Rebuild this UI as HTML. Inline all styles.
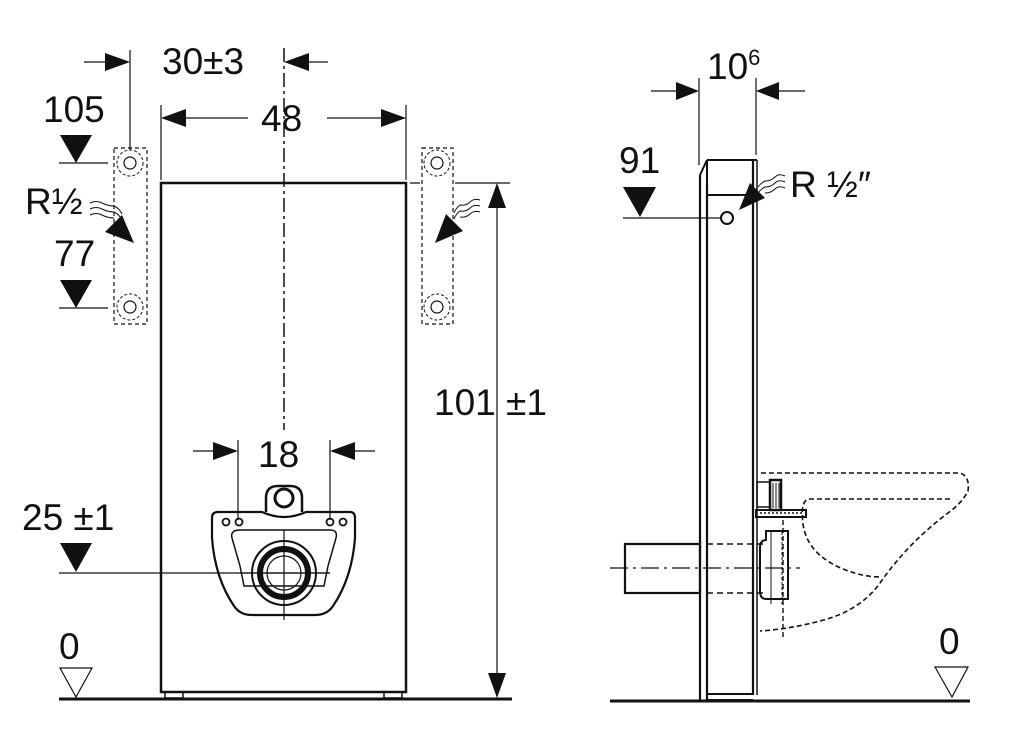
<!DOCTYPE html>
<html><head><meta charset="utf-8"><style>
html,body{margin:0;padding:0;background:#fff;}
svg{display:block}
text{font-family:"Liberation Sans",sans-serif;fill:#111;}
</style></head><body>
<svg width="1024" height="731" viewBox="0 0 1024 731" xmlns="http://www.w3.org/2000/svg">
<g stroke="#111" fill="none">
<rect x="161" y="183" width="245" height="509" stroke-width="2.5"/>
<path d="M165 692 v6 h18 v-6 M384 692 v6 h18 v-6" stroke-width="1.5"/>
<line x1="59" y1="699" x2="512" y2="699" stroke-width="3"/>
<line x1="284" y1="48" x2="284" y2="430" stroke-width="1.5" stroke-dasharray="14,4,3,4"/>
<line x1="130" y1="50" x2="130" y2="150" stroke-width="1.2"/>
<line x1="84" y1="62" x2="128" y2="62" stroke-width="1.2"/>
<polygon points="130,62 105,53 105,71" fill="#111" stroke="none"/>
<line x1="286" y1="62" x2="328" y2="62" stroke-width="1.2"/>
<polygon points="284,62 309,53 309,71" fill="#111" stroke="none"/>
<line x1="161" y1="105" x2="161" y2="180" stroke-width="1.2"/>
<line x1="406" y1="105" x2="406" y2="180" stroke-width="1.2"/>
<line x1="163" y1="118" x2="248" y2="118" stroke-width="1.2"/>
<line x1="327" y1="118" x2="404" y2="118" stroke-width="1.2"/>
<polygon points="161,118 186,109 186,127" fill="#111" stroke="none"/>
<polygon points="406,118 381,109 381,127" fill="#111" stroke="none"/>
<rect x="114" y="148" width="33" height="176" stroke-width="1.2" stroke-dasharray="4,3"/>
<rect x="422" y="148" width="31" height="176" stroke-width="1.2" stroke-dasharray="4,3"/>
<circle cx="130" cy="163" r="13" stroke-width="1" stroke-dasharray="3,2"/><circle cx="130" cy="163" r="6" stroke-width="1.2"/>
<circle cx="130" cy="307" r="13" stroke-width="1" stroke-dasharray="3,2"/><circle cx="130" cy="307" r="6" stroke-width="1.2"/>
<circle cx="437" cy="163" r="13" stroke-width="1" stroke-dasharray="3,2"/><circle cx="437" cy="163" r="6" stroke-width="1.2"/>
<circle cx="437" cy="307" r="13" stroke-width="1" stroke-dasharray="3,2"/><circle cx="437" cy="307" r="6" stroke-width="1.2"/>
<line x1="59" y1="163" x2="108" y2="163" stroke-width="1.2"/>
<line x1="59" y1="308" x2="108" y2="308" stroke-width="1.2"/>
<line x1="59" y1="573" x2="330" y2="573" stroke-width="1.2"/>
<path d="M90 203 q6 -3 12 0 t12 3 q5 2 8 8 M90 209 q6 -3 12 0 t12 3 q5 2 8 8 M90 215 q6 -3 12 0 t12 3" stroke-width="1"/>
<polygon points="134,243 105,232 122,215" fill="#111" stroke="none"/>
<path d="M480 200 q-6 -2 -10 2 t-10 3 q-4 3 -6 8 M480 206 q-6 -2 -10 2 t-10 3 q-4 3 -6 8 M480 212 q-6 -2 -10 2 t-10 3" stroke-width="1"/>
<polygon points="435,243 446,214 463,231" fill="#111" stroke="none"/>
<path d="M410 183 h10 M455 183 h55" stroke-width="1.2"/>
<line x1="497" y1="205" x2="497" y2="676" stroke-width="1.2"/>
<polygon points="497,183 488,208 506,208" fill="#111" stroke="none"/>
<polygon points="497,698 488,673 506,673" fill="#111" stroke="none"/>
<line x1="238" y1="440" x2="238" y2="520" stroke-width="1.2"/>
<line x1="330" y1="440" x2="330" y2="520" stroke-width="1.2"/>
<line x1="193" y1="451" x2="236" y2="451" stroke-width="1.2"/>
<polygon points="238,451 213,442 213,460" fill="#111" stroke="none"/>
<line x1="332" y1="451" x2="375" y2="451" stroke-width="1.2"/>
<polygon points="330,451 355,442 355,460" fill="#111" stroke="none"/>
<path d="M266 512 v-14 q0 -12 12 -12 h12 q12 0 12 12 v14" stroke-width="2.5" fill="#fff"/>
<circle cx="284" cy="498" r="9" stroke-width="3"/>
<path d="M220 512 H262 q22 10 44 0 H350 q5 0 5 6 v20 q-3 40 -22 68 q-6 9 -18 9 H252 q-12 0 -18 -9 q-19 -28 -22 -68 v-20 q0 -6 6 -6z" stroke-width="2.2"/>
<path d="M240 530 H330 q8 0 6 8 l-8 28 l-4 20 H244 l-4 -20 l-8 -28 q-2 -8 8 -8z" stroke-width="1.5"/>
<circle cx="284" cy="573" r="32" stroke-width="2"/>
<circle cx="284" cy="573" r="24" stroke-width="6"/>
<circle cx="284" cy="573" r="17" stroke-width="1.2"/>
<line x1="284" y1="530" x2="284" y2="620" stroke-width="1.2"/>
<line x1="240" y1="573" x2="330" y2="573" stroke-width="1.2"/>
<circle cx="226" cy="522" r="3.5" stroke-width="1.8"/><circle cx="239" cy="522" r="3.5" stroke-width="1.8"/>
<circle cx="330" cy="522" r="3.5" stroke-width="1.8"/><circle cx="343" cy="522" r="3.5" stroke-width="1.8"/>
<polygon points="60,135 92,135 76,163" fill="#111" stroke="none"/>
<polygon points="60,280 92,280 76,308" fill="#111" stroke="none"/>
<polygon points="60,543 92,543 76,572" fill="#111" stroke="none"/>
<polygon points="60,668 92,668 76,697" stroke-width="1.2"/>
<polygon points="623,187 656,187 640,217" fill="#111" stroke="none"/>
<polygon points="935,667 968,667 952,697" stroke-width="1.2"/>

<line x1="610" y1="701" x2="970" y2="701" stroke-width="3"/>
<line x1="700" y1="175" x2="700" y2="700" stroke-width="2.2"/>
<line x1="707" y1="185" x2="707" y2="700" stroke-width="2.2"/>
<line x1="753" y1="160" x2="753" y2="695" stroke-width="2.2"/>
<line x1="757" y1="160" x2="757" y2="695" stroke-width="1.5"/>
<path d="M707 160 H757 M707 160 v25 M700 175 l7 -15 M707 195 H753 M707 694 H753 M707 700 H753" stroke-width="2"/>
<line x1="699" y1="78" x2="699" y2="165" stroke-width="1.2"/>
<line x1="756" y1="78" x2="756" y2="155" stroke-width="1.2"/>
<line x1="651" y1="91" x2="697" y2="91" stroke-width="1.2"/>
<polygon points="699,91 676,82 676,100" fill="#111" stroke="none"/>
<line x1="758" y1="91" x2="805" y2="91" stroke-width="1.2"/>
<polygon points="756,91 779,82 779,100" fill="#111" stroke="none"/>
<line x1="623" y1="218" x2="720" y2="218" stroke-width="1.2"/>
<circle cx="727" cy="218" r="6" stroke-width="2"/>
<path d="M785 176 q-6 -3 -10 1 t-10 4 q-4 2 -7 6 M785 182 q-6 -3 -10 1 t-10 4 q-4 2 -7 6 M785 188 q-6 -3 -10 1 t-10 4" stroke-width="1"/>
<polygon points="739,210 750,183 765,198" fill="#111" stroke="none"/>
<rect x="625" y="544" width="75" height="49" stroke-width="2.2"/>
<path d="M707 544 H765 M707 593 H765" stroke-width="1.5" stroke-dasharray="6,4"/>
<line x1="610" y1="568" x2="800" y2="568" stroke-width="1.2" stroke-dasharray="18,5,3,5"/>
<path d="M766 540 q-6 0 -6 8 v43 q0 8 6 8 h22 v-68 h-22z" stroke-width="2"/>
<line x1="771" y1="532" x2="771" y2="604" stroke-width="1"/>
<line x1="782" y1="532" x2="782" y2="604" stroke-width="1" stroke-dasharray="3,2"/>
<rect x="770" y="480" width="11" height="30" stroke-width="2.5"/>
<path d="M773 483 v25 M776 483 v25 M779 483 v25" stroke-width="1"/>
<rect x="757" y="482" width="13" height="25" stroke-width="1.5"/>
<rect x="756" y="510" width="50" height="7" stroke-width="2"/>
<path d="M760 513 H804" stroke-width="1.5" stroke-dasharray="2,2"/>
<path d="M761 473 H960 q10 3 8 18 q-6 12 -20 22 q-40 30 -68 70 q-20 28 -60 38 q-30 8 -60 10" stroke-width="1.6" stroke-dasharray="5,3"/>
<path d="M950 499 H810 q-10 0 -7 25 q4 30 40 45 q20 8 38 8" stroke-width="1.6" stroke-dasharray="5,3"/>
<path d="M783 520 v120" stroke-width="1.4" stroke-dasharray="5,3"/>
</g>
<g font-size="37">
<text x="162" y="74">30±3</text>
<text x="261" y="131">48</text>
<text x="43" y="122">105</text>
<text x="25" y="214">R½</text>
<text x="54" y="266">77</text>
<text x="434" y="415">101 ±1</text>
<text x="258" y="467">18</text>
<text x="22" y="530">25 ±1</text>
<text x="59" y="659">0</text>
<text x="707" y="79">10<tspan font-size="22" dy="-14">6</tspan></text>
<text x="619" y="173">91</text>
<text x="790" y="197">R ½″</text>
<text x="939" y="654">0</text>
</g>
</svg>
</body></html>
